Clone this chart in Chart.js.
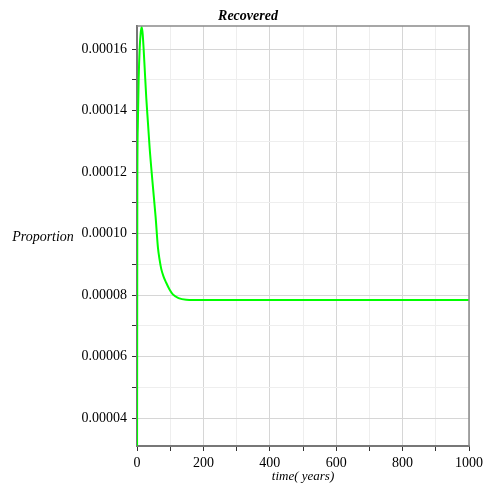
<!DOCTYPE html>
<html>
<head>
<meta charset="utf-8">
<script src="https://cdn.jsdelivr.net/npm/chart.js@4/dist/chart.umd.min.js"></script>
<style>
  html, body { margin: 0; padding: 0; background: #fff; }
  #wrap { width: 487px; height: 486px; }
</style>
</head>
<body>
<div id="wrap"><canvas id="recovered"></canvas></div>
<script>
// time in years and proportion recovered
var timeYears = [0, 1, 2.5, 5, 8, 11, 14, 17, 20, 23, 28, 33, 38, 47, 56, 63, 68, 73, 80, 88, 98, 108, 125, 148, 200, 300, 400, 500, 600, 700, 800, 900, 1000];
var recovered = [0, 0.000115, 0.000135, 0.000150, 0.000160, 0.000165, 0.0001672, 0.000165, 0.000160, 0.000154, 0.000144, 0.000136, 0.000128, 0.0001164, 0.0001055, 0.0000955, 0.0000915, 0.0000885, 0.0000860, 0.0000840, 0.0000818, 0.0000802, 0.0000790, 0.0000785, 0.0000784, 0.0000784, 0.0000784, 0.0000784, 0.0000784, 0.0000784, 0.0000784, 0.0000784, 0.0000784];

var xTicks = [0, 200, 400, 600, 800, 1000];
var yTicks = [0.00004, 0.00006, 0.00008, 0.00010, 0.00012, 0.00014, 0.00016];

var serif = '"Liberation Serif", "Times New Roman", serif';

function isMajorY(v) {
    return yTicks.some(function (t) { return Math.abs(t - v) < 1e-9; });
}

// titles and the box round the plot
var decor = {
    id: "decor",
    afterDraw: function (chart) {
        var c = chart.ctx, a = chart.chartArea;
        c.save();
        c.strokeStyle = "#8a8a8a";
        c.lineWidth = 1.5;
        c.beginPath();
        c.moveTo(a.left, a.top);
        c.lineTo(a.right, a.top);
        c.lineTo(a.right, a.bottom);
        c.stroke();
        c.fillStyle = "#000";
        c.textAlign = "center";
        c.textBaseline = "middle";
        c.font = "italic bold 14px " + serif;
        c.fillText("Recovered", 248, 16);
        c.font = "italic 14px " + serif;
        c.fillText("Proportion", 43, 237);
        c.font = "italic 13px " + serif;
        c.fillText("time( years)", 303, 477);
        c.restore();
    }
};

new Chart(document.getElementById("recovered").getContext("2d"), {
    type: "line",
    data: {
        datasets: [{
            label: "Recovered",
            data: timeYears.map(function (t, i) { return { x: t, y: recovered[i] }; }),
            borderColor: "#00ff00",
            borderWidth: 2,
            pointRadius: 0,
            fill: false,
            cubicInterpolationMode: "monotone",
        }],
    },
    options: {
        responsive: true,
        maintainAspectRatio: false,
        animation: false,
        layout: { padding: { top: 26, right: 17, left: 0, bottom: 0 } },
        plugins: {
            legend: { display: false },
            tooltip: { enabled: false },
        },
        scales: {
            x: {
                type: "linear",
                min: 0,
                max: 1000,
                afterFit: function (s) { s.height = 40; },
                ticks: {
                    stepSize: 100,
                    maxRotation: 0,
                    autoSkip: false,
                    padding: 4,
                    color: "#000",
                    font: { family: serif, size: 14 },
                    callback: function (v) { return xTicks.indexOf(v) >= 0 ? String(v) : ""; },
                },
                grid: {
                    color: function (ctx) { return ctx.tick && xTicks.indexOf(ctx.tick.value) >= 0 ? "#d6d6d6" : "#eeeeee"; },
                    tickColor: "#333",
                    tickLength: 5,
                    lineWidth: 1,
                },
                border: { color: "#777", width: 2 },
            },
            y: {
                type: "linear",
                min: 0.0000309,
                max: 0.0001675,
                afterFit: function (s) { s.width = 137; },
                ticks: {
                    stepSize: 0.00001,
                    includeBounds: false,
                    autoSkip: false,
                    padding: 5,
                    color: "#000",
                    font: { family: serif, size: 14 },
                    callback: function (v) { return isMajorY(v) ? v.toFixed(5) : ""; },
                },
                grid: {
                    color: function (ctx) { return ctx.tick && isMajorY(ctx.tick.value) ? "#d6d6d6" : "#eeeeee"; },
                    tickColor: "#333",
                    tickLength: 5,
                    lineWidth: 1,
                },
                border: { color: "#777", width: 2 },
            },
        },
    },
    plugins: [decor],
});
</script>
</body>
</html>
